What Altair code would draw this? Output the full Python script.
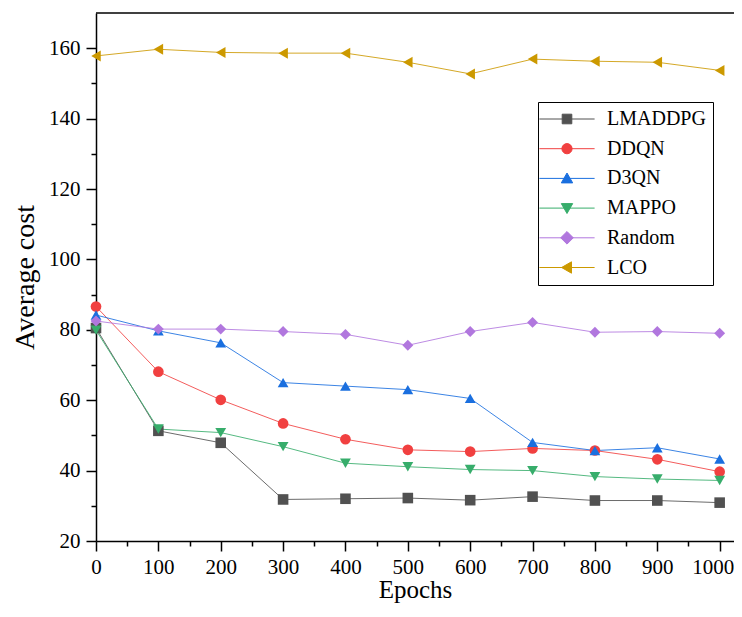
import altair as alt
import pandas as pd

# ---- data ----
epochs = [0, 100, 200, 300, 400, 500, 600, 700, 800, 900, 1000]
series_names = ["LMADDPG", "DDQN", "D3QN", "MAPPO", "Random", "LCO"]
lmaddpg = [80.5, 51.3, 47.9, 31.8, 32.0, 32.2, 31.6, 32.6, 31.5, 31.5, 30.9]
ddqn = [86.6, 68.1, 60.1, 53.4, 48.9, 45.9, 45.4, 46.3, 45.7, 43.2, 39.7]
d3qn = [84.2, 79.7, 76.3, 65.0, 64.0, 63.0, 60.5, 48.0, 45.7, 46.5, 43.3]
mappo = [79.9, 51.8, 50.8, 46.8, 42.1, 41.1, 40.3, 40.0, 38.3, 37.6, 37.2]
random_ = [82.5, 80.2, 80.2, 79.5, 78.7, 75.6, 79.5, 82.1, 79.3, 79.5, 79.0]
lco = [157.8, 159.7, 158.8, 158.6, 158.6, 156.0, 152.7, 156.9, 156.3, 156.0, 153.7]

x_ticks = list(range(0, 1001, 50))
y_ticks = list(range(20, 161, 10))
y_top = 170

# ---- styles ----
colors = ["#515151", "#F14040", "#1A6FDF", "#37AD6B", "#B177DE", "#CC9900"]
shapes = ["square", "circle", "triangle-up", "triangle-down", "diamond", "triangle-left"]
sizes = [112, 121, 150, 150, 190, 160]

line_seg = "M-4.6,0L4.6,0"
legend_paths = [
    line_seg + "M-0.8,-0.8L0.8,-0.8L0.8,0.8L-0.8,0.8Z",
    line_seg + "M-0.85,0A0.85,0.85,0,1,0,0.85,0A0.85,0.85,0,1,0,-0.85,0Z",
    line_seg + "M0,-0.9L0.95,0.75L-0.95,0.75Z",
    line_seg + "M0,0.9L0.95,-0.75L-0.95,-0.75Z",
    line_seg + "M0,-1.05L1.05,0L0,1.05L-1.05,0Z",
    line_seg + "M-0.9,0L0.75,-0.95L0.75,0.95Z",
]

rows = []
for name, vals in zip(series_names, [lmaddpg, ddqn, d3qn, mappo, random_, lco]):
    for e, v in zip(epochs, vals):
        rows.append({"series": name, "epoch": e, "cost": v})
df = pd.DataFrame(rows)

FONT = "Liberation Serif"

xscale = alt.Scale(domain=[0, 1023], nice=False, zero=False)
yscale = alt.Scale(domain=[20, 170], nice=False, zero=False)
cscale = alt.Scale(domain=series_names, range=colors)

x_axis = alt.Axis(
    values=x_ticks,
    format="d",
    tickSize={"condition": {"test": "datum.value % 100 !== 0", "value": 5}, "value": 10},
    labelExpr="datum.value % 100 === 0 ? datum.label : ''",
    labelOffset={"condition": {"test": "datum.value === 1000", "value": -7}, "value": 0},
    labelFlush=False,
    labelOverlap=False,
    labelPadding=5,
    title="Epochs",
    titleFontSize=25,
    titlePadding=0,
)
y_axis = alt.Axis(
    values=y_ticks,
    format="d",
    tickSize={"condition": {"test": "datum.value % 20 !== 0", "value": 5}, "value": 10},
    labelExpr="datum.value % 20 === 0 ? datum.label : ''",
    labelOverlap=False,
    labelPadding=6,
    title="Average cost",
    titleFontSize=28,
    titlePadding=9,
)
x_enc = alt.X("epoch:Q", scale=xscale, axis=x_axis)
y_enc = alt.Y("cost:Q", scale=yscale, axis=y_axis)

base = alt.Chart(df)

lines = base.mark_line(strokeWidth=1, opacity=0.85).encode(
    x=x_enc, y=y_enc,
    color=alt.Color("series:N", scale=cscale, legend=None),
)

points = base.mark_point(filled=True, opacity=1).encode(
    x=x_enc, y=y_enc,
    color=alt.Color("series:N", scale=cscale, legend=None),
    shape=alt.Shape("series:N", scale=alt.Scale(domain=series_names, range=shapes), legend=None),
    size=alt.Size("series:N", scale=alt.Scale(domain=series_names, range=sizes), legend=None),
)

leg = alt.Legend(
    title=None,
    orient="none",
    legendX=442,
    legendY=89,
    padding=7,
    strokeColor="black",
    fillColor="white",
    cornerRadius=0,
    labelFont=FONT,
    labelFontSize=20,
    labelColor="black",
    symbolSize=144,
    symbolStrokeWidth=1,
    symbolOpacity=1,
    symbolOffset=12,
    labelOffset=30,
    rowPadding=9.7,
)

legend_layer = base.mark_point(filled=True, opacity=0, strokeOpacity=0.75).encode(
    x=x_enc, y=y_enc,
    fill=alt.Fill("series:N", scale=cscale, legend=leg),
    stroke=alt.Stroke("series:N", scale=cscale, legend=leg),
    shape=alt.Shape("series:N", scale=alt.Scale(domain=series_names, range=legend_paths), legend=leg),
)

top_rule = alt.Chart(pd.DataFrame({"cost": [y_top]})).mark_rule(color="black", strokeWidth=1.5).encode(
    y=alt.Y("cost:Q", scale=yscale, axis=y_axis)
)

chart = (
    alt.layer(lines, points, legend_layer, top_rule)
    .resolve_scale(color="independent", shape="independent", fill="independent", stroke="independent")
    .properties(
        width=638,
        height=528,
        autosize=alt.AutoSizeParams(type="none"),
        padding={"left": 88, "top": 5, "right": 0, "bottom": 63},
    )
    .configure_view(stroke=None)
    .configure_axis(
        grid=False,
        domainColor="black",
        domainWidth=1.5,
        tickColor="black",
        tickWidth=1.5,
        labelFont=FONT,
        labelFontSize=21,
        labelColor="black",
        titleFont=FONT,
        titleFontWeight="normal",
        titleColor="black",
    )
)

chart.save("out.html", embed_options={"renderer": "svg", "actions": False})
